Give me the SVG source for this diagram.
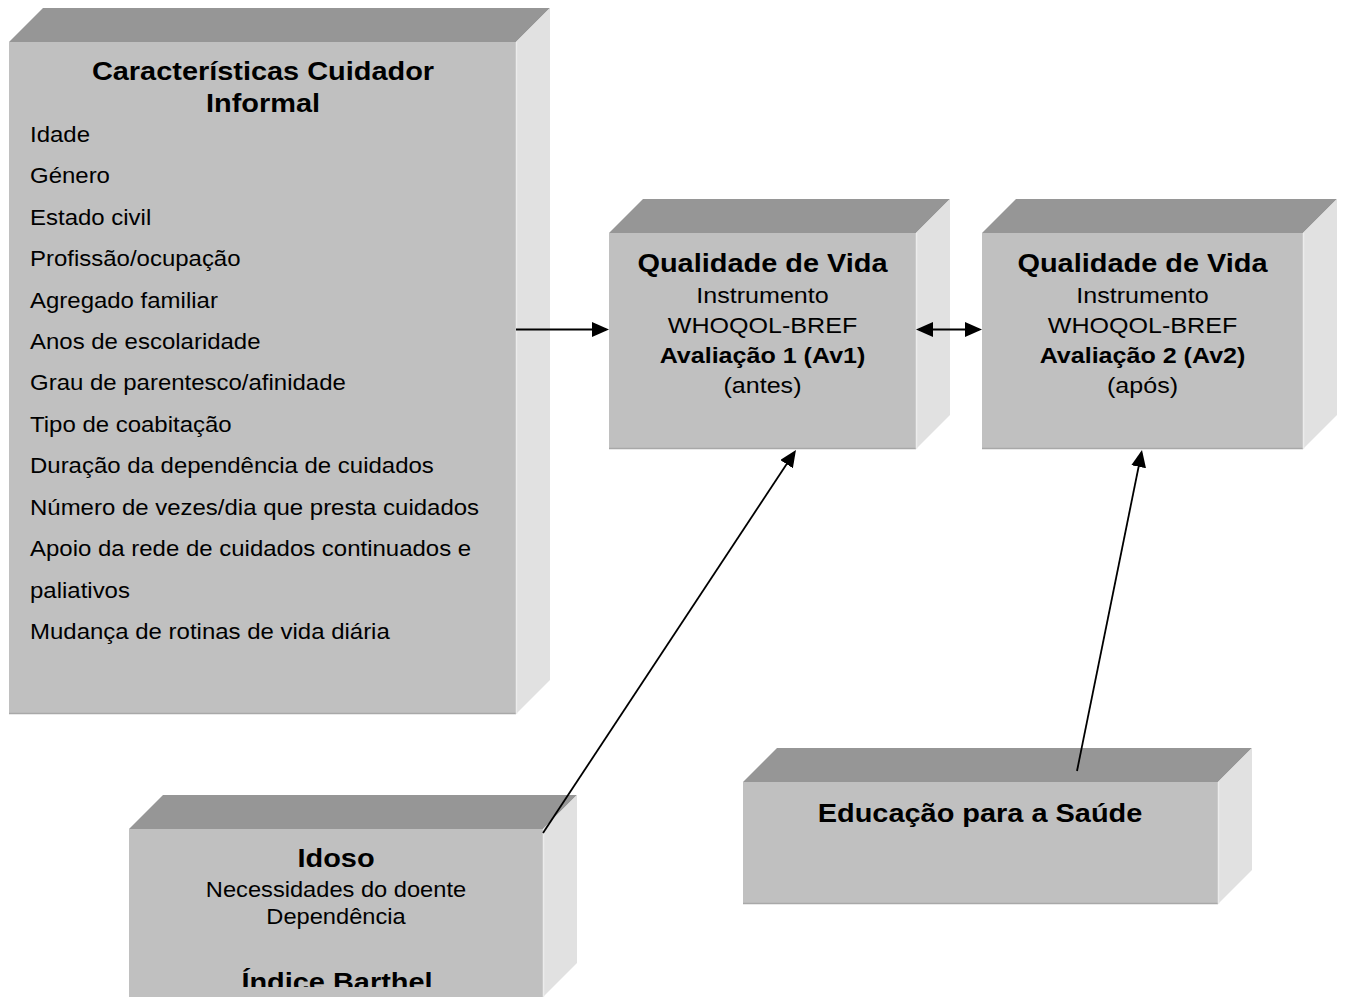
<svg xmlns="http://www.w3.org/2000/svg" width="1345" height="997" viewBox="0 0 1345 997">
<style>
.f{fill:#c0c0c0}
.t{fill:#969696}
.s{fill:#e1e1e1}
.eb{stroke:#a8a8a8;stroke-width:1.5;fill:none}
.es{stroke:#ececec;stroke-width:1.5;fill:none}
text{font-family:"Liberation Sans",Arial,Helvetica,sans-serif;fill:#000}
.h{font-weight:bold;font-size:26.3px;text-anchor:middle}
.b{font-size:22.8px;text-anchor:middle}
.bb{font-size:22.8px;font-weight:bold;text-anchor:middle}
.l{font-size:21.8px}
.n{font-size:21.5px;text-anchor:middle}
.c{stroke:#000;fill:none}
</style>
<defs>
<marker id="ah" markerWidth="17" markerHeight="15" refX="14" refY="7.5" orient="auto-start-reverse" markerUnits="userSpaceOnUse">
<path d="M0,0 L17,7.5 L0,15 z" fill="#000"/>
</marker>
<clipPath id="clipIdoso"><rect x="129" y="829" width="414" height="158"/></clipPath>
</defs>

<g id="node-cuidador">
<polygon class="t" points="9,42 43,8 550,8 516,42"/>
<polygon class="s" points="516,42 550,8 550,680 516,714"/>
<rect class="f" x="9" y="42" width="507" height="672"/>
<line class="eb" x1="9" y1="713.5" x2="516" y2="713.5"/>
<line class="es" x1="516.5" y1="42" x2="516.5" y2="714"/>
<text class="h" transform="translate(263,80) scale(1.1,1)">Características Cuidador</text>
<text class="h" transform="translate(263,112) scale(1.1,1)">Informal</text>
<text class="l" transform="translate(30,141.7) scale(1.1,1)">Idade</text>
<text class="l" transform="translate(30,183.2) scale(1.1,1)">Género</text>
<text class="l" transform="translate(30,224.6) scale(1.1,1)">Estado civil</text>
<text class="l" transform="translate(30,266) scale(1.1,1)">Profissão/ocupação</text>
<text class="l" transform="translate(30,307.5) scale(1.1,1)">Agregado familiar</text>
<text class="l" transform="translate(30,349) scale(1.1,1)">Anos de escolaridade</text>
<text class="l" transform="translate(30,390.4) scale(1.1,1)">Grau de parentesco/afinidade</text>
<text class="l" transform="translate(30,431.9) scale(1.1,1)">Tipo de coabitação</text>
<text class="l" transform="translate(30,473.3) scale(1.1,1)">Duração da dependência de cuidados</text>
<text class="l" transform="translate(30,514.8) scale(1.1,1)">Número de vezes/dia que presta cuidados</text>
<text class="l" transform="translate(30,556.2) scale(1.1,1)">Apoio da rede de cuidados continuados e</text>
<text class="l" transform="translate(30,597.7) scale(1.1,1)">paliativos</text>
<text class="l" transform="translate(30,639.1) scale(1.1,1)">Mudança de rotinas de vida diária</text>
</g>

<g id="node-qv1">
<polygon class="t" points="609,233 643,199 950,199 916,233"/>
<polygon class="s" points="916,233 950,199 950,415 916,449"/>
<rect class="f" x="609" y="233" width="307" height="216"/>
<line class="eb" x1="609" y1="448.5" x2="916" y2="448.5"/>
<line class="es" x1="916.5" y1="233" x2="916.5" y2="449"/>
<text class="h" transform="translate(762.5,271.5) scale(1.1,1)">Qualidade de Vida</text>
<text class="b" transform="translate(762.5,303) scale(1.1,1)">Instrumento</text>
<text class="b" transform="translate(762.5,333) scale(1.1,1)">WHOQOL-BREF</text>
<text class="bb" transform="translate(762.5,363.3) scale(1.1,1)">Avaliação 1 (Av1)</text>
<text class="b" transform="translate(762.5,393) scale(1.1,1)">(antes)</text>
</g>

<g id="node-qv2">
<polygon class="t" points="982,233 1016,199 1337,199 1303,233"/>
<polygon class="s" points="1303,233 1337,199 1337,415 1303,449"/>
<rect class="f" x="982" y="233" width="321" height="216"/>
<line class="eb" x1="982" y1="448.5" x2="1303" y2="448.5"/>
<line class="es" x1="1303.5" y1="233" x2="1303.5" y2="449"/>
<text class="h" transform="translate(1142.5,271.5) scale(1.1,1)">Qualidade de Vida</text>
<text class="b" transform="translate(1142.5,303) scale(1.1,1)">Instrumento</text>
<text class="b" transform="translate(1142.5,333) scale(1.1,1)">WHOQOL-BREF</text>
<text class="bb" transform="translate(1142.5,363.3) scale(1.1,1)">Avaliação 2 (Av2)</text>
<text class="b" transform="translate(1142.5,393) scale(1.1,1)">(após)</text>
</g>

<g id="node-idoso">
<polygon class="t" points="129,829 163,795 577,795 543,829"/>
<polygon class="s" points="543,829 577,795 577,963 543,997"/>
<rect class="f" x="129" y="829" width="414" height="168"/>
<line class="es" x1="543.5" y1="829" x2="543.5" y2="997"/>
<text class="h" transform="translate(336,867.3) scale(1.1,1)">Idoso</text>
<text class="n" transform="translate(336,897.3) scale(1.1,1)">Necessidades do doente</text>
<text class="n" transform="translate(336,924) scale(1.1,1)">Dependência</text>
<g clip-path="url(#clipIdoso)">
<text class="h" transform="translate(337,990.5) scale(1.1,1)">Índice Barthel</text>
</g>
</g>

<g id="node-educacao">
<polygon class="t" points="743,782 777,748 1252,748 1218,782"/>
<polygon class="s" points="1218,782 1252,748 1252,870 1218,904"/>
<rect class="f" x="743" y="782" width="475" height="122"/>
<line class="eb" x1="743" y1="903.5" x2="1218" y2="903.5"/>
<line class="es" x1="1218.5" y1="782" x2="1218.5" y2="904"/>
<text class="h" transform="translate(980,821.5) scale(1.1,1)">Educação para a Saúde</text>
</g>

<g id="connectors">
<line class="c" stroke-width="2" x1="516" y1="329.5" x2="606" y2="329.5" marker-end="url(#ah)"/>
<line class="c" stroke-width="2" x1="919" y1="329.5" x2="979" y2="329.5" marker-start="url(#ah)" marker-end="url(#ah)"/>
<line class="c" stroke-width="1.8" x1="543" y1="833" x2="794.3" y2="452.5" marker-end="url(#ah)"/>
<line class="c" stroke-width="1.8" x1="1077" y1="771" x2="1141.4" y2="453" marker-end="url(#ah)"/>
</g>
</svg>
